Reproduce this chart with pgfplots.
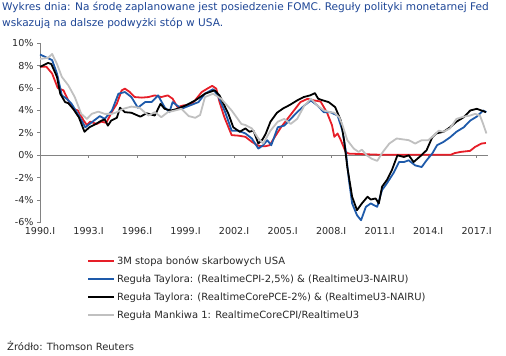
\documentclass[border=0pt]{standalone}
\usepackage{pgfplots}
\pgfplotsset{compat=1.18}
\usepackage{fontspec}
\setmainfont{DejaVu Sans}
\definecolor{ttl}{RGB}{30,70,150}
\definecolor{cred}{RGB}{230,30,40}
\definecolor{cblue}{RGB}{30,90,170}
\definecolor{cgray}{RGB}{192,192,192}
\definecolor{axgray}{RGB}{130,130,130}
\definecolor{txt}{RGB}{40,40,40}
\begin{document}
\begin{tikzpicture}
\path[use as bounding box] (0bp,0bp) rectangle (506bp,356bp);
\node[anchor=north west, inner sep=0pt, text=ttl, font=\fontsize{10.6}{15.5}\selectfont, align=left] at (2bp,354bp)
 {Wykres dnia: Na środę zaplanowane jest posiedzenie FOMC. Reguły polityki monetarnej Fed\\wskazują na dalsze podwyżki stóp w USA.};
\node[anchor=west, inner sep=0pt, text=txt, font=\fontsize{10}{12}\selectfont] at (7bp,10bp) {Źródło: Thomson Reuters};
\begin{axis}[
  at={(40bp,133.5bp)}, anchor=south west,
  scale only axis, width=448bp, height=179.2bp,
  xmin=1990, xmax=2017.7, ymin=-6, ymax=10,
  axis x line*=bottom, axis y line*=left,
  x axis line style={draw=none},
  y axis line style={draw=axgray, line width=0.8bp},
  xtick={1990,1993,1996,1999,2002,2005,2008,2011,2014,2017},
  xticklabels={1990.I,1993.I,1996.I,1999.I,2002.I,2005.I,2008.I,2011.I,2014.I,2017.I},
  ytick={-6,-4,-2,0,2,4,6,8,10},
  yticklabels={-6\%,-4\%,-2\%,0\%,2\%,4\%,6\%,8\%,10\%},
  major x tick style={draw=none},
  major y tick style={draw=axgray, line width=0.8bp},
  ytick align=outside, major tick length=3bp,
  tick label style={font=\fontsize{9.6}{12}\selectfont, text=txt},
  xticklabel style={yshift=-1bp},
  /pgf/number format/assume math mode=true,
  clip=false,
  legend cell align=left,
  legend style={at={(axis description cs:0.105,-0.175)}, anchor=north west, draw=none, fill=none,
    font=\fontsize{10}{12}\selectfont, text=txt, row sep=5bp, inner sep=0pt},
  legend image code/.code={\draw[#1] (0bp,0bp) -- (26bp,0bp);},
  every axis plot/.append style={line width=1.8bp, line join=round},
]
\draw[axgray, line width=0.8bp] (axis cs:1990,0) -- (axis cs:2017.7,0);
\pgfplotsinvokeforeach{1993,1996,1999,2002,2005,2008,2011,2014,2017}{
  \draw[axgray, line width=0.8bp] (axis cs:#1,0) -- ++(0bp,-3bp);
}
% red: 3M T-bill
\addplot[cred] coordinates {
(1990.0,7.9)(1990.4,7.9)(1990.75,7.3)(1991.1,6.0)(1991.45,5.8)(1991.75,4.9)(1992.05,4.15)(1992.35,4.0)
(1992.7,3.1)(1992.9,2.7)(1993.1,3.0)(1993.5,2.8)(1993.8,3.0)(1994.1,2.9)(1994.45,3.9)(1994.75,4.6)
(1995.05,5.8)(1995.25,5.95)(1995.55,5.65)(1995.85,5.2)(1996.3,5.15)(1996.7,5.2)(1997.1,5.35)(1997.5,5.2)
(1997.9,5.35)(1998.2,5.05)(1998.5,4.3)(1998.85,4.45)(1999.2,4.5)(1999.5,4.75)(2000.0,5.65)(2000.4,6.0)
(2000.65,6.2)(2000.9,5.95)(2001.1,4.75)(2001.4,3.4)(2001.85,1.8)(2002.3,1.75)(2002.7,1.65)(2003.1,1.2)
(2003.5,0.85)(2003.9,0.8)(2004.2,0.9)(2004.5,1.6)(2004.9,2.5)(2005.3,3.25)(2005.7,4.0)(2006.1,4.75)
(2006.55,5.05)(2006.95,4.9)(2007.35,4.8)(2007.75,3.8)(2008.05,2.7)(2008.2,1.65)(2008.4,1.95)(2008.6,1.35)
(2008.9,0.3)(2009.1,0.15)(2010.0,0.1)(2011.0,0.05)(2012.0,0.05)(2013.0,0.05)(2014.0,0.05)(2015.0,0.05)
(2015.4,0.05)(2015.65,0.2)(2016.0,0.3)(2016.6,0.4)(2016.9,0.75)(2017.3,1.05)(2017.57,1.1)
};
\addlegendentry{3M stopa bonów skarbowych USA}
% blue
\addplot[cblue] coordinates {
(1990.0,9.0)(1990.75,8.5)(1991.05,7.3)(1991.35,5.35)(1991.65,5.05)(1991.95,4.6)(1992.4,3.55)(1992.8,2.5)
(1993.2,2.95)(1993.7,3.5)(1994.0,3.25)(1994.45,4.0)(1994.85,5.5)(1995.25,5.65)(1995.65,5.2)(1996.05,4.25)
(1996.5,4.75)(1996.9,4.75)(1997.3,5.35)(1997.7,4.3)(1998.0,3.85)(1998.2,4.75)(1998.75,4.15)(1999.0,4.3)
(1999.8,4.75)(2000.2,5.5)(2000.7,5.9)(2001.0,5.35)(2001.45,3.85)(2001.85,2.2)(2002.25,2.2)(2002.7,1.95)
(2003.1,1.5)(2003.5,0.6)(2003.8,0.9)(2004.05,1.35)(2004.3,0.9)(2004.7,2.5)(2005.1,2.65)(2005.5,3.25)
(2005.9,3.85)(2006.35,4.45)(2006.75,4.9)(2007.15,4.45)(2007.55,3.85)(2007.95,3.85)(2008.4,3.55)(2008.7,2.2)
(2008.9,0.45)(2009.1,-2.2)(2009.3,-4.3)(2009.6,-5.35)(2009.85,-5.8)(2010.15,-4.6)(2010.45,-4.3)(2010.85,-4.6)
(2011.15,-3.1)(2011.45,-2.5)(2011.85,-1.6)(2012.2,-0.6)(2012.5,-0.6)(2012.8,-0.45)(2013.2,-0.9)(2013.6,-1.05)
(2013.9,-0.45)(2014.25,0.15)(2014.55,0.9)(2014.95,1.2)(2015.35,1.6)(2015.75,2.1)(2016.2,2.5)(2016.6,3.1)
(2017.0,3.45)(2017.4,4.0)(2017.6,3.85)
};
\addlegendentry{Reguła Taylora: (RealtimeCPI-2,5\%) \& (RealtimeU3-NAIRU)}
% black
\addplot[black] coordinates {
(1990.0,7.9)(1990.15,8.0)(1990.5,8.25)(1990.7,8.15)(1991.05,7.0)(1991.25,5.5)(1991.55,4.75)(1991.75,4.65)
(1992.05,4.15)(1992.4,3.4)(1992.75,2.1)(1993.05,2.5)(1993.4,2.75)(1993.8,3.1)(1994.0,3.2)(1994.2,2.65)
(1994.4,3.1)(1994.75,3.35)(1994.95,4.25)(1995.25,3.85)(1995.65,3.8)(1996.2,3.45)(1996.6,3.75)(1997.1,3.55)
(1997.45,4.6)(1997.7,4.15)(1998.1,4.0)(1998.5,4.15)(1999.0,4.45)(1999.6,4.9)(2000.2,5.5)(2000.8,5.8)
(2001.1,5.35)(2001.65,3.7)(2001.95,2.5)(2002.35,2.1)(2002.7,2.4)(2002.95,2.1)(2003.2,2.2)(2003.5,1.05)
(2003.75,1.4)(2003.95,1.9)(2004.25,3.0)(2004.65,3.8)(2005.05,4.2)(2005.45,4.5)(2005.9,4.9)(2006.3,5.2)
(2006.7,5.35)(2007.0,5.55)(2007.2,5.05)(2007.5,4.9)(2007.85,4.75)(2008.25,4.3)(2008.6,3.1)(2008.8,1.35)
(2009.0,-1.05)(2009.3,-3.7)(2009.6,-4.9)(2009.9,-4.3)(2010.25,-3.7)(2010.45,-3.95)(2010.75,-3.85)(2010.95,-4.3)
(2011.15,-2.8)(2011.45,-2.2)(2011.75,-1.35)(2012.1,0.0)(2012.5,-0.15)(2012.8,0.0)(2013.1,-0.6)(2013.5,-0.1)
(2013.9,0.45)(2014.25,1.6)(2014.5,1.95)(2014.95,2.1)(2015.35,2.5)(2015.75,3.0)(2016.2,3.4)(2016.6,4.0)
(2017.0,4.15)(2017.3,4.0)(2017.57,3.85)
};
\addlegendentry{Reguła Taylora: (RealtimeCorePCE-2\%) \& (RealtimeU3-NAIRU)}
% gray
\addplot[cgray] coordinates {
(1990.0,8.6)(1990.5,8.7)(1990.75,9.05)(1991.05,8.15)(1991.35,7.0)(1991.75,6.25)(1992.15,5.2)(1992.55,3.7)
(1992.9,3.25)(1993.2,3.7)(1993.6,3.9)(1994.0,3.7)(1994.45,3.7)(1994.75,3.85)(1995.15,4.15)(1995.65,4.35)
(1996.15,4.25)(1996.7,3.55)(1997.1,3.85)(1997.5,3.4)(1997.9,3.85)(1998.35,4.0)(1998.75,4.15)(1999.2,3.5)
(1999.6,3.35)(1999.9,3.6)(2000.2,5.2)(2000.7,5.5)(2001.2,5.05)(2001.85,4.0)(2002.45,2.8)(2002.7,2.7)
(2003.1,2.4)(2003.5,1.5)(2003.8,1.05)(2004.25,2.2)(2004.7,3.0)(2005.1,3.25)(2005.5,2.8)(2005.9,3.25)
(2006.35,4.45)(2006.75,5.05)(2007.15,4.45)(2007.55,4.0)(2007.95,3.85)(2008.2,3.8)(2008.5,3.4)(2008.7,2.7)
(2009.0,1.35)(2009.4,0.6)(2009.7,0.3)(2009.9,0.5)(2010.2,0.0)(2010.5,-0.3)(2010.85,-0.5)(2011.2,0.3)
(2011.6,1.05)(2012.05,1.5)(2012.55,1.4)(2012.8,1.35)(2013.2,1.05)(2013.6,1.35)(2014.0,1.35)(2014.3,1.7)
(2014.65,2.2)(2014.95,2.1)(2015.35,2.4)(2015.75,3.25)(2016.2,3.45)(2016.6,3.55)(2016.9,3.7)(2017.2,3.55)
(2017.4,2.8)(2017.6,1.95)
};
\addlegendentry{Reguła Mankiwa 1: RealtimeCoreCPI/RealtimeU3}
\end{axis}
\end{tikzpicture}
\end{document}
